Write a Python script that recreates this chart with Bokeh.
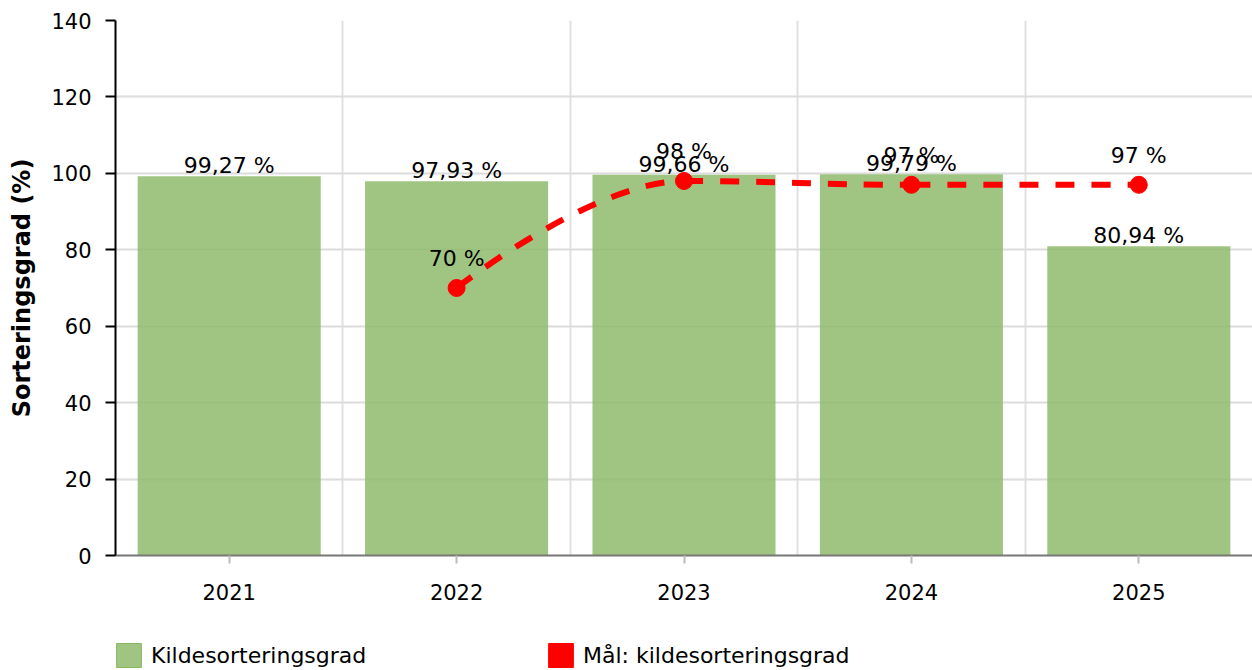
from bokeh.plotting import figure
from bokeh.layouts import column
from bokeh.models import (Range1d, FixedTicker, ColumnDataSource, LabelSet, Legend, LegendItem)
from bokeh.core.properties import value
from bokeh.embed import file_html
from bokeh.resources import INLINE

# ---- data ----
years = ["2021", "2022", "2023", "2024", "2025"]
sorting_rate = [99.27, 97.93, 99.66, 99.79, 80.94]
target_years = ["2022", "2023", "2024", "2025"]
target_rate = [70, 98, 97, 97]
y_ticks = [0, 20, 40, 60, 80, 100, 120, 140]
bar_name = "Kildesorteringsgrad"
target_name = "Mål: kildesorteringsgrad"
y_title = "Sorteringsgrad (%)"

FONT = "DejaVu Sans"
GREEN = "#8fbb6c"
RED = "#ff0000"

xs = list(range(len(years)))
txs = [years.index(y) for y in target_years]

p = figure(width=1252, height=640, output_backend="svg", toolbar_location=None,
           x_range=Range1d(-0.5, len(years) - 0.5), y_range=Range1d(0, 140),
           min_border_left=115, min_border_right=0, min_border_top=20, min_border_bottom=85)
p.outline_line_color = None
p.background_fill_color = "white"
p.border_fill_color = "white"

# grids
p.ygrid.ticker = FixedTicker(ticks=y_ticks)
p.ygrid.grid_line_color = "#dcdcdc"
p.ygrid.grid_line_width = 2
p.xgrid.ticker = FixedTicker(ticks=[i + 0.5 for i in xs])
p.xgrid.grid_line_color = "#e0e0e0"
p.xgrid.grid_line_width = 2

# axes
p.yaxis.ticker = FixedTicker(ticks=y_ticks)
p.yaxis.axis_label = y_title
p.yaxis.axis_label_text_font = FONT
p.yaxis.axis_label_text_font_style = "bold"
p.yaxis.axis_label_text_font_size = "24px"
p.yaxis.axis_label_text_color = "black"
p.yaxis.axis_label_standoff = 12
p.yaxis.major_label_text_font = FONT
p.yaxis.major_label_text_font_size = "21px"
p.yaxis.major_label_text_color = "black"
p.yaxis.major_label_standoff = 14
p.yaxis.axis_line_color = "black"
p.yaxis.axis_line_width = 2
p.yaxis.major_tick_line_color = "black"
p.yaxis.major_tick_line_width = 2
p.yaxis.major_tick_out = 10
p.yaxis.major_tick_in = 0
p.yaxis.minor_tick_line_color = None

p.xaxis.ticker = FixedTicker(ticks=xs)
p.xaxis.major_label_overrides = {i: y for i, y in zip(xs, years)}
p.xaxis.major_label_text_font = FONT
p.xaxis.major_label_text_font_size = "21px"
p.xaxis.major_label_text_color = "black"
p.xaxis.major_label_standoff = 20
p.xaxis.axis_line_color = "#777777"
p.xaxis.axis_line_width = 2
p.xaxis.major_tick_line_color = "#bbbbbb"
p.xaxis.major_tick_line_width = 2
p.xaxis.major_tick_out = 8
p.xaxis.major_tick_in = 0
p.xaxis.minor_tick_line_color = None

# bars
bars = p.vbar(x=xs, top=sorting_rate, width=0.805, fill_color=GREEN, fill_alpha=0.85,
              line_color=None)

# smooth target line (spline through the target points)
def spline_segments(px, py, smoothing=1.5):
    n = len(px)
    right = [(px[i], py[i]) for i in range(n)]
    left = [(px[i], py[i]) for i in range(n)]
    denom = smoothing + 1
    for i in range(1, n - 1):
        lx, ly, x, y, nx, ny = px[i - 1], py[i - 1], px[i], py[i], px[i + 1], py[i + 1]
        lcx = (smoothing * x + lx) / denom
        lcy = (smoothing * y + ly) / denom
        rcx = (smoothing * x + nx) / denom
        rcy = (smoothing * y + ny) / denom
        corr = ((rcy - lcy) * (rcx - x)) / (rcx - lcx) + y - rcy
        lcy += corr
        rcy += corr
        if lcy > ly and lcy > y:
            lcy = max(ly, y); rcy = 2 * y - lcy
        elif lcy < ly and lcy < y:
            lcy = min(ly, y); rcy = 2 * y - lcy
        if rcy > ny and rcy > y:
            rcy = max(ny, y); lcy = 2 * y - rcy
        elif rcy < ny and rcy < y:
            rcy = min(ny, y); lcy = 2 * y - rcy
        left[i] = (lcx, lcy)
        right[i] = (rcx, rcy)
    segs = dict(x0=[], y0=[], x1=[], y1=[], cx0=[], cy0=[], cx1=[], cy1=[])
    for i in range(1, n):
        segs["x0"].append(px[i - 1]); segs["y0"].append(py[i - 1])
        segs["cx0"].append(right[i - 1][0]); segs["cy0"].append(right[i - 1][1])
        segs["cx1"].append(left[i][0]); segs["cy1"].append(left[i][1])
        segs["x1"].append(px[i]); segs["y1"].append(py[i])
    return segs

segs = spline_segments(txs, target_rate)
p.bezier(source=ColumnDataSource(segs), x0="x0", y0="y0", x1="x1", y1="y1",
         cx0="cx0", cy0="cy0", cx1="cx1", cy1="cy1",
         line_color=RED, line_width=6, line_dash="19 17")
p.scatter(x=txs, y=target_rate, size=17, fill_color=RED, line_color=RED)

# labels
def fmt_pct(v):
    return ("%.2f" % v).replace(".", ",") + " %"

bar_src = ColumnDataSource(dict(x=xs, y=sorting_rate, t=[fmt_pct(v) for v in sorting_rate]))
p.add_layout(LabelSet(x="x", y="y", text="t", source=bar_src, text_align="center",
                      text_baseline="alphabetic", y_offset=3, text_font=value(FONT),
                      text_font_size=value("22px"), text_color="black"))
tgt_src = ColumnDataSource(dict(x=txs, y=target_rate, t=["%g %%" % v for v in target_rate]))
p.add_layout(LabelSet(x="x", y="y", text="t", source=tgt_src, text_align="center",
                      text_baseline="alphabetic", y_offset=22, text_font=value(FONT),
                      text_font_size=value("22px"), text_color="black"))

# ---- legend strip below the chart ----
lg = figure(width=1252, height=30, output_backend="svg", toolbar_location=None,
            x_axis_type=None, y_axis_type=None, x_range=Range1d(0, 1), y_range=Range1d(0, 1),
            min_border=0, min_border_left=0, min_border_right=0, min_border_top=0,
            min_border_bottom=0)
lg.outline_line_color = None
lg.grid.visible = False
# swatch proxies, placed outside the visible range of the strip
lg_bar = lg.vbar(x=[5], top=[0], width=0.5, fill_color=GREEN, fill_alpha=0.85,
                 line_color="#86b862")
lg_tgt = lg.vbar(x=[5], top=[0], width=0.5, fill_color=RED, line_color=RED)
legend = Legend(items=[LegendItem(label=bar_name, renderers=[lg_bar]),
                       LegendItem(label=target_name, renderers=[lg_tgt])],
                location=(-2, 0), orientation="horizontal",
                glyph_width=31, glyph_height=30, label_standoff=7, label_width=394,
                spacing=0, padding=0, margin=0, border_line_color=None,
                background_fill_alpha=0, label_text_font=FONT,
                label_text_font_size="22px", label_text_color="black")
lg.add_layout(legend, "center")

layout = column(p, lg, spacing=0)
open("out.html", "w").write(file_html(layout, INLINE))
